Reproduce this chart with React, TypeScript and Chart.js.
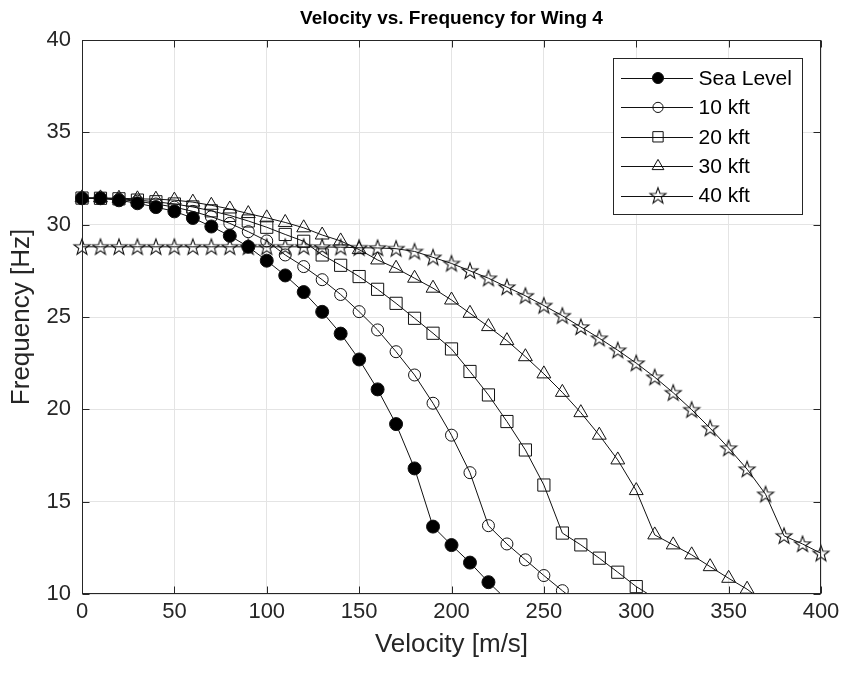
import React, { useEffect, useRef } from 'react';
import { Chart, registerables } from 'chart.js';
import { drawPoint } from 'chart.js/helpers';

Chart.register(...registerables);

// ---------- data ----------
const velocity = [
  0, 10, 20, 30, 40, 50, 60, 70, 80, 90, 100, 110, 120, 130, 140, 150, 160, 170, 180, 190, 200,
  210, 220, 230, 240, 250, 260, 270, 280, 290, 300, 310, 320, 330, 340, 350, 360, 370, 380, 390, 400,
];

const seaLevel = [
  31.43, 31.43, 31.32, 31.16, 30.95, 30.72, 30.36, 29.9, 29.4, 28.8, 28.05, 27.25, 26.35, 25.28,
  24.1, 22.7, 21.08, 19.2, 16.8, 13.65, 12.65, 11.7, 10.64, 9.68,
];

const kft10 = [
  31.43, 31.42, 31.36, 31.27, 31.12, 30.95, 30.72, 30.43, 30.07, 29.62, 29.12, 28.36, 27.73, 27.02,
  26.22, 25.29, 24.3, 23.12, 21.86, 20.33, 18.6, 16.57, 13.7, 12.71, 11.85, 11.0, 10.18, 9.4,
];

const kft20 = [
  31.44, 31.43, 31.4, 31.33, 31.24, 31.12, 30.96, 30.75, 30.5, 30.2, 29.86, 29.47, 29.1, 28.36,
  27.8, 27.19, 26.5, 25.74, 24.93, 24.12, 23.27, 22.05, 20.78, 19.34, 17.8, 15.9, 13.3, 12.66,
  11.94, 11.18, 10.4, 9.78,
];

const kft30 = [
  31.45, 31.45, 31.43, 31.4, 31.38, 31.33, 31.22, 31.05, 30.85, 30.6, 30.37, 30.12, 29.83, 29.44,
  29.12, 28.65, 28.09, 27.64, 27.1, 26.56, 25.92, 25.2, 24.48, 23.72, 22.85, 21.92, 20.92, 19.82,
  18.6, 17.26, 15.6, 13.2, 12.66, 12.12, 11.48, 10.85, 10.26, 9.5,
];

const kft40 = [
  28.8, 28.8, 28.8, 28.8, 28.8, 28.8, 28.8, 28.8, 28.8, 28.8, 28.8, 28.8, 28.8, 28.79, 28.78,
  28.75, 28.74, 28.7, 28.55, 28.23, 27.9, 27.5, 27.1, 26.62, 26.15, 25.62, 25.07, 24.46, 23.85,
  23.2, 22.5, 21.74, 20.9, 19.98, 18.98, 17.9, 16.76, 15.4, 13.15, 12.71, 12.2,
];

const seriesNames = ['Sea Level', '10 kft', '20 kft', '30 kft', '40 kft'];
const xTicks = [0, 50, 100, 150, 200, 250, 300, 350, 400];
const yTicks = [10, 15, 20, 25, 30, 35, 40];
const chartTitle = 'Velocity vs. Frequency for Wing 4';
const xLabel = 'Velocity [m/s]';
const yLabel = 'Frequency [Hz]';

// ---------- styling ----------
const FONT = "'Liberation Sans', Arial, Helvetica, sans-serif";
const AXIS_COLOR = '#262626';
const LINE_COLOR = '#111111';

function makeStar(): HTMLCanvasElement {
  const c = document.createElement('canvas');
  c.width = 20;
  c.height = 20;
  const g = c.getContext('2d')!;
  const cx = 10, cy = 10.5, R = 8.4, r = 3.4;
  g.beginPath();
  for (let i = 0; i < 10; i++) {
    const rad = i % 2 === 0 ? R : r;
    const a = -Math.PI / 2 + (i * Math.PI) / 5;
    const px = cx + rad * Math.cos(a);
    const py = cy + rad * Math.sin(a);
    if (i === 0) g.moveTo(px, py);
    else g.lineTo(px, py);
  }
  g.closePath();
  g.strokeStyle = '#111';
  g.lineWidth = 1.1;
  g.stroke();
  return c;
}

export default function App() {
  const ref = useRef<HTMLCanvasElement | null>(null);

  useEffect(() => {
    if (!ref.current) return;
    const star = makeStar();

    const markers: any[] = [
      { pointStyle: 'circle', radius: 6.5, fill: '#000000' },
      { pointStyle: 'circle', radius: 6, fill: 'rgba(0,0,0,0)' },
      { pointStyle: 'rect', radius: 8.6, fill: 'rgba(0,0,0,0)' },
      { pointStyle: 'triangle', radius: 8, fill: 'rgba(0,0,0,0)' },
      { pointStyle: star, radius: 8, fill: 'rgba(0,0,0,0)' },
    ];
    const seriesValues = [seaLevel, kft10, kft20, kft30, kft40];

    const datasets = seriesValues.map((vals, i) => ({
      label: seriesNames[i],
      data: vals.map((y, j) => ({ x: velocity[j], y })),
      borderColor: LINE_COLOR,
      borderWidth: 1,
      backgroundColor: markers[i].fill,
      pointBackgroundColor: markers[i].fill,
      pointBorderColor: LINE_COLOR,
      pointBorderWidth: 1,
      pointStyle: markers[i].pointStyle,
      pointRadius: (c: any) => (c.raw && c.raw.y < 10 ? 0 : markers[i].radius),
      pointHoverRadius: markers[i].radius,
      tension: 0,
      fill: false,
      clip: { left: 12, top: 12, right: 12, bottom: 0 },
    }));

    const overlay = {
      id: 'matlabOverlay',
      afterDatasetsDraw(chart: any) {
        const { ctx, chartArea: a, scales } = chart;
        ctx.save();
        // frame
        ctx.strokeStyle = AXIS_COLOR;
        ctx.lineWidth = 1;
        const L = Math.round(a.left) + 0.5;
        const T = Math.round(a.top) + 0.5;
        const Rr = Math.round(a.right) - 0.5;
        const B = Math.round(a.bottom) - 0.5;
        ctx.strokeRect(L, T, Rr - L, B - T);
        // inward ticks
        const tl = 7;
        ctx.beginPath();
        for (const v of xTicks) {
          const px = Math.round(scales.x.getPixelForValue(v)) + 0.5;
          ctx.moveTo(px, B);
          ctx.lineTo(px, B - tl);
          ctx.moveTo(px, T);
          ctx.lineTo(px, T + tl);
        }
        for (const v of yTicks) {
          const py = Math.round(scales.y.getPixelForValue(v)) + 0.5;
          ctx.moveTo(L, py);
          ctx.lineTo(L + tl, py);
          ctx.moveTo(Rr, py);
          ctx.lineTo(Rr - tl, py);
        }
        ctx.stroke();

        // title
        ctx.fillStyle = '#000';
        ctx.font = `bold 19px ${FONT}`;
        ctx.textAlign = 'center';
        ctx.textBaseline = 'alphabetic';
        ctx.fillText(chartTitle, (a.left + a.right) / 2, 24);

        // legend
        const bw = 189, bh = 156;
        const bx = Math.round(a.right - 19 - bw) + 0.5;
        const by = Math.round(a.top + 18) + 0.5;
        ctx.fillStyle = '#ffffff';
        ctx.fillRect(bx, by, bw, bh);
        ctx.strokeStyle = AXIS_COLOR;
        ctx.lineWidth = 1;
        ctx.strokeRect(bx, by, bw, bh);
        ctx.font = `21px ${FONT}`;
        ctx.textAlign = 'left';
        ctx.textBaseline = 'middle';
        for (let i = 0; i < seriesNames.length; i++) {
          const ry = by + 19.5 + i * 29.4;
          ctx.strokeStyle = LINE_COLOR;
          ctx.lineWidth = 1;
          ctx.beginPath();
          ctx.moveTo(bx + 7.5, Math.round(ry) + 0.5);
          ctx.lineTo(bx + 79.5, Math.round(ry) + 0.5);
          ctx.stroke();
          ctx.fillStyle = markers[i].fill;
          ctx.strokeStyle = LINE_COLOR;
          drawPoint(
            ctx,
            { pointStyle: markers[i].pointStyle, radius: markers[i].radius * 0.85, rotation: 0, borderWidth: 1 } as any,
            bx + 44.5,
            ry
          );
          ctx.fillStyle = '#000';
          ctx.fillText(seriesNames[i], bx + 85, ry + 1);
        }
        ctx.restore();
      },
    };

    const chart = new Chart(ref.current, {
      type: 'line',
      data: { datasets } as any,
      plugins: [overlay],
      options: {
        animation: false,
        responsive: false,
        devicePixelRatio: 1,
        events: [],
        layout: { padding: { left: 0, right: 25, top: 40, bottom: 0 } },
        plugins: {
          legend: { display: false },
          title: { display: false },
          tooltip: { enabled: false },
        },
        scales: {
          x: {
            type: 'linear',
            min: 0,
            max: 400,
            afterBuildTicks: (s: any) => {
              s.ticks = xTicks.map((v) => ({ value: v }));
            },
            afterFit: (s: any) => {
              s.height = 79;
            },
            grid: { color: '#e4e4e4', drawTicks: false, lineWidth: 1 },
            border: { display: false },
            ticks: {
              color: AXIS_COLOR,
              font: { family: FONT, size: 22 },
              padding: 5,
              maxRotation: 0,
              autoSkip: false,
              callback: (v: any) => String(v),
            },
            title: {
              display: true,
              text: xLabel,
              color: AXIS_COLOR,
              font: { family: FONT, size: 26 },
              padding: { top: 0, bottom: 12.4 },
            },
          },
          y: {
            type: 'linear',
            min: 10,
            max: 40,
            afterBuildTicks: (s: any) => {
              s.ticks = yTicks.map((v) => ({ value: v }));
            },
            afterFit: (s: any) => {
              s.width = 82;
            },
            grid: { color: '#e4e4e4', drawTicks: false, lineWidth: 1 },
            border: { display: false },
            ticks: {
              color: AXIS_COLOR,
              font: { family: FONT, size: 22 },
              padding: 11,
              autoSkip: false,
              callback: (v: any) => String(v),
            },
            title: {
              display: true,
              text: yLabel,
              color: AXIS_COLOR,
              font: { family: FONT, size: 26 },
              padding: { top: 6.4, bottom: 0 },
            },
          },
        },
      } as any,
    });

    return () => chart.destroy();
  }, []);

  return (
    <div style={{ position: 'fixed', left: 0, top: 0, width: 846, height: 673, background: '#fff' }}>
      <canvas ref={ref} width={846} height={673} style={{ width: 846, height: 673, display: 'block' }} />
    </div>
  );
}
